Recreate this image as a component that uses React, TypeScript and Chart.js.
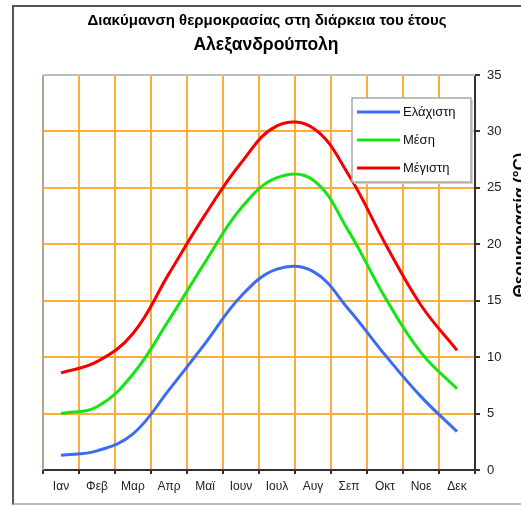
import React, { useEffect, useRef } from "react";
import { Chart, registerables } from "chart.js";
Chart.register(...registerables);

const months = ["Ιαν", "Φεβ", "Μαρ", "Απρ", "Μαϊ", "Ιουν", "Ιουλ", "Αυγ", "Σεπ", "Οκτ", "Νοε", "Δεκ"];
const minTemp = [1.3, 1.7, 3.2, 7.1, 11.2, 15.4, 17.8, 17.6, 14.2, 10.2, 6.5, 3.4];
const meanTemp = [5.0, 5.6, 8.5, 13.3, 18.4, 23.2, 25.9, 25.7, 21.1, 15.3, 10.4, 7.2];
const maxTemp = [8.6, 9.6, 12.1, 17.4, 22.6, 27.2, 30.5, 30.3, 26.1, 20.1, 14.6, 10.6];
const seriesNames = ["Ελάχιστη", "Μέση", "Μέγιστη"];
const yMin = 0;
const yMax = 35;
const yStep = 5;
const titleLine1 = "Διακύμανση θερμοκρασίας στη διάρκεια του έτους";
const titleLine2 = "Αλεξανδρούπολη";
const yTitle = "Θερμοκρασία (°C)";

const FONT = "'Liberation Sans', Arial, sans-serif";

const decorPlugin = {
  id: "decor",
  beforeDatasetsDraw(chart: any) {
    const { ctx, chartArea } = chart;
    ctx.save();
    ctx.strokeStyle = "#b7a488";
    ctx.lineWidth = 2;
    ctx.beginPath();
    ctx.moveTo(chartArea.left, chartArea.bottom);
    ctx.lineTo(chartArea.left, chartArea.top);
    ctx.stroke();
    ctx.strokeStyle = "#bdbdbd";
    ctx.beginPath();
    ctx.moveTo(chartArea.left, chartArea.top);
    ctx.lineTo(chartArea.right, chartArea.top);
    ctx.stroke();
    ctx.restore();
  },
  afterDraw(chart: any) {
    const { ctx, chartArea } = chart;
    ctx.save();
    // titles
    ctx.fillStyle = "#000";
    ctx.textAlign = "center";
    ctx.textBaseline = "middle";
    ctx.font = `bold 15px ${FONT}`;
    ctx.fillText(titleLine1, 267, 21);
    ctx.font = `bold 17.5px ${FONT}`;
    ctx.fillText(titleLine2, 266, 45);
    // y title
    ctx.save();
    ctx.translate(525, 225);
    ctx.rotate(-Math.PI / 2);
    ctx.textAlign = "center";
    ctx.textBaseline = "alphabetic";
    ctx.font = `bold 17px ${FONT}`;
    ctx.fillText(yTitle, 0, 0);
    ctx.restore();
    // legend
    const x0 = chartArea.right - 123;
    const y0 = chartArea.top + 23;
    const w = 119;
    const h = 84;
    ctx.fillStyle = "#d0d0d0";
    ctx.fillRect(x0 + 2, y0 + 2, w, h);
    ctx.fillStyle = "#fff";
    ctx.fillRect(x0, y0, w, h);
    ctx.strokeStyle = "#a8a8a8";
    ctx.lineWidth = 1.5;
    ctx.strokeRect(x0, y0, w, h);
    chart.data.datasets.forEach((ds: any, i: number) => {
      const yy = y0 + 14 + i * 28;
      ctx.strokeStyle = ds.borderColor;
      ctx.lineWidth = 3;
      ctx.beginPath();
      ctx.moveTo(x0 + 5, yy);
      ctx.lineTo(x0 + 48, yy);
      ctx.stroke();
      ctx.fillStyle = "#111";
      ctx.font = `13px ${FONT}`;
      ctx.textAlign = "left";
      ctx.textBaseline = "middle";
      ctx.fillText(ds.label, x0 + 51, yy);
    });
    ctx.restore();
  },
};

export default function App() {
  const canvasRef = useRef<HTMLCanvasElement | null>(null);
  useEffect(() => {
    if (!canvasRef.current) return;
    const mk = (label: string, data: number[], color: string) => ({
      label,
      data,
      borderColor: color,
      backgroundColor: color,
      borderWidth: 3,
      pointRadius: 0,
      tension: 0.4,
      fill: false,
    });
    const chart = new Chart(canvasRef.current, {
      type: "line",
      data: {
        labels: months,
        datasets: [
          mk(seriesNames[0], minTemp, "#3b6cf8"),
          mk(seriesNames[1], meanTemp, "#14e614"),
          mk(seriesNames[2], maxTemp, "#f50000"),
        ],
      },
      options: {
        responsive: false,
        animation: false,
        layout: { padding: { left: 43, top: 75, right: 0, bottom: 0 } },
        plugins: { legend: { display: false }, title: { display: false }, tooltip: { enabled: false } },
        scales: {
          x: {
            offset: true,
            afterFit: (s: any) => {
              s.height = 37;
            },
            grid: {
              offset: true,
              color: "#ffad3a",
              lineWidth: 2,
              tickColor: "#333",
              tickLength: 4,
            },
            border: { color: "#333", width: 2 },
            ticks: {
              color: "#222",
              font: { family: FONT, size: 12 },
              padding: 5,
              maxRotation: 0,
              autoSkip: false,
            },
          },
          y: {
            position: "right",
            min: yMin,
            max: yMax,
            afterFit: (s: any) => {
              s.width = 46;
            },
            grid: {
              color: (c: any) =>
                c.tick && c.tick.value === yMax ? "#bdbdbd" : c.tick && c.tick.value === yMin ? "rgba(0,0,0,0)" : "#ffad3a",
              lineWidth: 2,
              tickColor: "#333",
              tickLength: 5,
            },
            border: { color: "#333", width: 2 },
            ticks: {
              stepSize: yStep,
              color: "#222",
              font: { family: FONT, size: 13 },
              padding: 7,
            },
          },
        },
      },
      plugins: [decorPlugin],
    } as any);
    return () => chart.destroy();
  }, []);
  return (
    <div style={{ position: "absolute", left: 0, top: 0, width: 521, height: 507, overflow: "hidden", background: "#fff" }}>
      <div
        style={{
          position: "absolute",
          left: 12,
          top: 5,
          width: 540,
          height: 500,
          borderLeft: "2px solid #555",
          borderTop: "2px solid #555",
          borderBottom: "2px solid #bbb",
          boxSizing: "border-box",
        }}
      />
      <canvas ref={canvasRef} width={521} height={507} style={{ position: "absolute", left: 0, top: 0 }} />
    </div>
  );
}
